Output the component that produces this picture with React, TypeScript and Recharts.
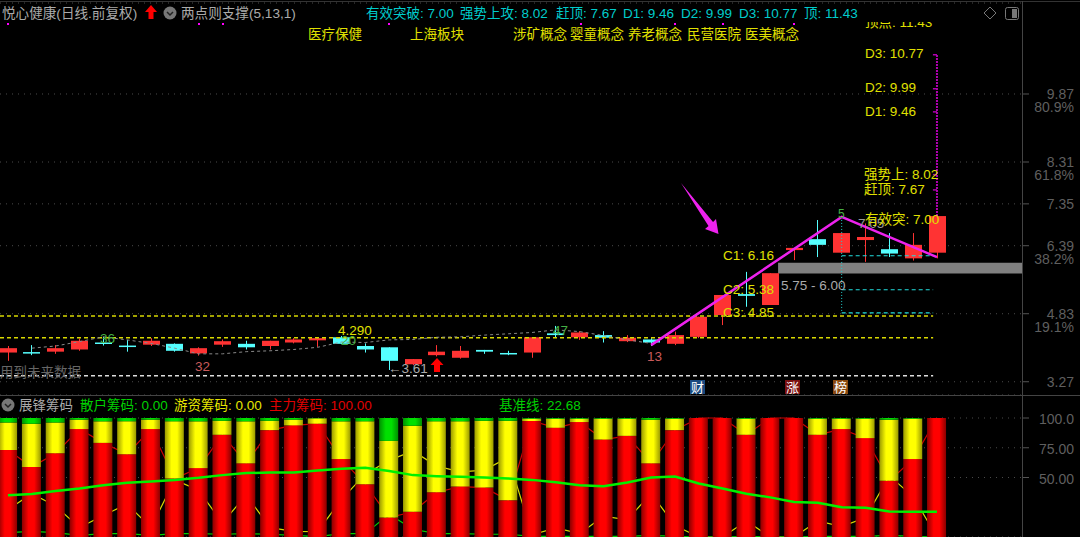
import React from 'react';
import { ComposedChart, Bar, Line, XAxis, YAxis, CartesianGrid, ReferenceLine, ReferenceArea } from 'recharts';

const candleOpen = [3.94,3.95,3.96,4.01,4.17,4.10,4.12,4.14,3.92,4.12,4.14,4.09,4.17,4.22,4.29,4.09,4.06,3.67,3.88,3.82,4.00,3.93,3.94,4.38,4.29,4.34,4.20,4.24,4.14,4.30,4.80,5.28,5.03,6.29,6.54,6.23,6.52,6.31,6.10,6.23];
const candleClose = [4.04,3.92,4.04,4.21,4.14,4.07,4.21,3.98,4.04,4.20,4.06,4.21,4.24,4.27,4.14,4.01,3.75,3.79,3.96,3.98,3.96,3.90,4.29,4.34,4.40,4.28,4.28,4.17,4.34,4.76,5.26,5.24,5.76,6.34,6.41,6.68,6.59,6.21,6.41,7.07];
const candleHigh = [4.09,4.11,4.11,4.26,4.30,4.23,4.27,4.15,4.06,4.24,4.21,4.21,4.27,4.29,4.32,4.15,4.06,3.79,4.11,4.09,4.00,3.98,4.29,4.55,4.43,4.43,4.34,4.27,4.42,4.76,5.26,5.79,5.76,6.34,6.98,6.68,6.90,6.68,6.68,7.07];
const candleLow = [3.75,3.88,3.91,3.98,4.10,3.96,4.09,3.96,3.87,4.07,4.01,4.01,4.15,4.07,4.13,3.94,3.54,3.65,3.85,3.80,3.91,3.88,3.82,4.29,4.23,4.17,4.18,4.09,4.11,4.27,4.57,4.99,5.03,6.06,6.13,6.23,6.02,6.13,6.05,6.10];
const trendValues = [null,4.04,4.09,4.19,4.30,4.23,4.15,4.04,3.91,3.91,3.96,3.98,4.01,4.06,4.18,4.17,4.23,4.24,4.29,4.30,4.34,4.37,4.40,4.46,4.42,4.33,4.23,4.15,null,null,null,null,null,null,null,null,null,null,null,null];
const swingValues = [null,null,null,null,null,null,null,null,null,null,null,null,null,null,null,null,null,null,null,null,null,null,null,null,null,null,null,4.11,null,null,null,null,null,null,null,7.05,null,null,null,6.13];

const mainChips = [73.2,58.8,70.3,90.7,79.1,69.5,90.7,49.2,57.9,85.9,61.9,89.8,93.8,95.2,65.5,44.4,16.4,21.2,37.6,42.4,41.5,30.8,97.5,91.8,96.6,81.9,85,61.9,89.8,100,100,85.9,100,100,85.9,90.7,83.1,47.2,65.5,100];
const hotChips = [23.1,36.4,26,7.9,18.1,27.7,7.9,48,39.3,11.8,35.3,7.9,4.8,4.5,31.7,52.8,64.4,72.3,59.6,54.8,56.2,66.9,1.9,7.6,2.8,17.5,14.4,36.7,9.6,0,0,13.5,0,0,13.5,8.7,16.3,51.4,33.9,0];
const retailChips = [3.7,4.8,3.7,1.4,2.8,2.8,1.4,2.8,2.8,2.3,2.8,2.3,1.4,0.3,2.8,2.8,19.2,6.5,2.8,2.8,2.3,2.3,0.6,0.6,0.6,0.6,0.6,1.4,0.6,0,0,0.6,0,0,0.6,0.6,0.6,1.4,0.6,0];
const baseValues = [35,36.2,38.7,40.7,43.5,45.5,46.6,48,49.7,52,53.7,54.2,54.2,55.9,57.3,58.2,55.4,52,51.1,50.6,50,49.2,48,46,43.5,42.7,45.8,50,50.8,44.9,40.7,36.4,33.3,29.4,28.8,25.1,24.6,21.5,21.2,21.2];

const priceTicks = [9.87, 8.31, 7.35, 6.39, 4.83, 3.27];
const priceTickLabels: Record<number, string[]> = {
  9.87: ['9.87', '80.9%'],
  8.31: ['8.31', '61.8%'],
  7.35: ['7.35'],
  6.39: ['6.39', '38.2%'],
  4.83: ['4.83', '19.1%'],
  3.27: ['3.27'],
};
const chipTicks = [100, 75, 50];
const chipTickLabels: Record<number, string> = { 100: '100.0', 75: '75.00', 50: '50.00' };
const targetLevels = [10.77, 9.99, 9.46, 8.02, 7.67];
const supportLevels = [6.16, 5.38, 4.85];
const conceptTags = ['医疗保健', '上海板块', '涉矿概念', '婴童概念', '养老概念', '民营医院', '医美概念'];
const summaryTexts = ['有效突破: 7.00', '强势上攻: 8.02', '赶顶: 7.67', 'D1: 9.46', 'D2: 9.99', 'D3: 10.77', '顶: 11.43'];

const candles = candleOpen.map((open, i) => ({
  i,
  open,
  close: candleClose[i],
  high: candleHigh[i],
  low: candleLow[i],
  trend: trendValues[i],
  swing: swingValues[i],
}));

const chips = mainChips.map((main, i) => ({
  i,
  main,
  hot: hotChips[i],
  retail: retailChips[i],
  base: baseValues[i],
}));

const FONT = '"Liberation Sans","Noto Sans CJK SC",sans-serif';
const UP = '#ff3333';
const DOWN = '#55ffff';
const XDOMAIN: [number, number] = [-0.336, 42.57];

const Candle = (props: any) => {
  const { x, y, width, height, payload } = props;
  const k = height / (payload.high - payload.low || 1);
  const color = payload.close >= payload.open ? UP : DOWN;
  const top = y + (payload.high - Math.max(payload.open, payload.close)) * k;
  const bodyH = Math.max(Math.abs(payload.close - payload.open) * k, 1.5);
  const cx = Math.round(x + width / 2);
  return (
    <g>
      <line x1={cx + 0.5} x2={cx + 0.5} y1={y} y2={y + height} stroke={color} strokeWidth={1} />
      <rect x={cx - 8} y={top} width={17} height={bodyH} fill={color} />
    </g>
  );
};

const PriceTick = (props: any) => {
  const { x, y, payload } = props;
  const lines = priceTickLabels[payload.value] || [];
  return (
    <g fontFamily={FONT} fontSize={14} fill="#5f5f5f">
      <line x1={x - 8} x2={x - 1} y1={y} y2={y} stroke="#555" />
      {lines.map((s, n) => (
        <text key={s} x={1074} y={y + 5 + n * 13} textAnchor="end">{s}</text>
      ))}
    </g>
  );
};

const ChipTick = (props: any) => {
  const { x, y, payload } = props;
  return (
    <g fontFamily={FONT} fontSize={14} fill="#5f5f5f">
      <line x1={x - 8} x2={x - 1} y1={y} y2={y} stroke="#555" />
      <text x={1074} y={y + 6} textAnchor="end">{chipTickLabels[payload.value]}</text>
    </g>
  );
};

const T = ({ x, y, c, s = 13.5, children }: any) => (
  <text x={x} y={y} fill={c} fontSize={s} fontFamily={FONT}>{children}</text>
);

const Chevron = ({ cx, cy }: { cx: number; cy: number }) => (
  <g>
    <circle cx={cx} cy={cy} r={6.5} fill="#777" />
    <path d={`M${cx - 3} ${cy - 1} L${cx} ${cy + 2} L${cx + 3} ${cy - 1}`} stroke="#222" strokeWidth={1.5} fill="none" />
  </g>
);

const Overlay = () => {
  const yellow = '#e0e000';
  const conceptX = [308, 410, 513, 570, 628, 687, 745];
  const summaryX = [366, 460, 556, 623, 681, 739, 804];
  return (
    <svg width={1080} height={537} style={{ position: 'absolute', left: 0, top: 0 }}>
      <defs>
        <clipPath id="topClip"><rect x={860} y={22} width={120} height={20} /></clipPath>
      </defs>
      <line x1={0} x2={1080} y1={1.5} y2={1.5} stroke="#333" />
      <line x1={0} x2={1080} y1={395.5} y2={395.5} stroke="#444" />
      <line x1={1022.5} x2={1022.5} y1={1} y2={537} stroke="#444" />

      <T x={2} y={18} c="#aaa" s={13.6}>悦心健康(日线.前复权)</T>
      <path d="M151 5 L157 12 L153.5 12 L153.5 19 L148.5 19 L148.5 12 L145 12 Z" fill="#ff0000" />
      <Chevron cx={170} cy={13} />
      <T x={181} y={18} c="#aaa" s={13.6}>两点则支撑(5,13,1)</T>
      {summaryTexts.map((s, n) => <T key={s} x={summaryX[n]} y={18} c="#00cccc">{s}</T>)}
      {[7, 198, 222, 388, 580, 674, 722, 793].map((x) => <rect key={x} x={x} y={23} width={2} height={2} fill="#ff00ff" />)}
      <path d="M990 7 L996 13 L990 19 L984 13 Z" fill="none" stroke="#777" />
      <rect x={1005.5} y={7.5} width={13} height={12} rx={2} fill="none" stroke="#777" />
      <rect x={1012} y={9} width={5} height={9} fill="#777" />

      {conceptTags.map((s, n) => <T key={s} x={conceptX[n]} y={39} c={yellow}>{s}</T>)}

      <g clipPath="url(#topClip)"><T x={865} y={27} c={yellow}>顶点: 11.43</T></g>
      <T x={865} y={58} c={yellow}>D3: 10.77</T>
      <T x={865} y={92} c={yellow}>D2: 9.99</T>
      <T x={865} y={116} c={yellow}>D1: 9.46</T>
      <T x={864} y={179} c={yellow}>强势上: 8.02</T>
      <T x={864} y={194} c={yellow}>赶顶: 7.67</T>
      <T x={858} y={228} c="#999">7.05</T>
      <T x={865} y={224} c={yellow}>有效突: 7.00</T>
      <T x={723} y={260} c={yellow}>C1: 6.16</T>
      <T x={723} y={294} c={yellow}>C2: 5.38</T>
      <T x={723} y={317} c={yellow}>C3: 4.85</T>
      <T x={781} y={290} c="#aaa">5.75 - 6.00</T>
      <T x={338} y={335} c={yellow}>4.290</T>
      <T x={100} y={343} c="#45b045">36</T>
      <T x={341} y={345} c="#45b045">20</T>
      <T x={553} y={335} c="#45b045">47</T>
      <T x={838} y={218} c="#45b045" s={12}>5</T>
      <T x={195} y={371} c="#c85a5a">32</T>
      <T x={647} y={361} c="#c85a5a">13</T>
      <T x={388} y={373} c="#aaa">←3.61</T>
      <T x={0} y={377} c="#666">用到未来数据</T>
      <path d="M437 358 L443.5 365 L440 365 L440 372 L434 372 L434 365 L430.5 365 Z" fill="#ff0000" />

      <path d="M681 183 L713 222 L716 219 L718.5 234 L705 229 L708.5 226 Z" fill="#ee22ee" />

      {[
        { x: 690, s: '财', bg: '#1a4a80' },
        { x: 785, s: '涨', bg: '#7a1010' },
        { x: 833, s: '榜', bg: '#8a4a10' },
      ].map((tag) => (
        <g key={tag.s}>
          <rect x={tag.x} y={380} width={15} height={14} fill={tag.bg} />
          <T x={tag.x + 1} y={392} c="#fff" s={13}>{tag.s}</T>
        </g>
      ))}

      <Chevron cx={8} cy={405} />
      <T x={19} y={410} c="#aaa">展锋筹码</T>
      <T x={80} y={410} c="#00d000">散户筹码: 0.00</T>
      <T x={174} y={410} c="#e6e600">游资筹码: 0.00</T>
      <T x={269} y={410} c="#e00000">主力筹码: 100.00</T>
      <T x={499} y={410} c="#00d000">基准线: 22.68</T>
    </svg>
  );
};

const chipMargin = { top: 23, right: 0, bottom: 0, left: 0 };

export default function App() {
  return (
    <div style={{ position: 'absolute', left: 0, top: 0, width: 1080, height: 537, background: '#000', overflow: 'hidden' }}>
      <div style={{ position: 'absolute', left: 0, top: 0 }}>
        <ComposedChart width={1080} height={395} data={candles} margin={{ top: 3, right: 0, bottom: 0, left: 0 }}>
          <XAxis dataKey="i" type="number" domain={XDOMAIN} allowDataOverflow hide />
          <YAxis
            orientation="right"
            width={58}
            domain={[2.966, 11.957]}
            allowDataOverflow
            ticks={priceTicks}
            interval={0}
            tick={<PriceTick />}
            axisLine={false}
            tickLine={false}
          />
          <CartesianGrid vertical={false} stroke="#4a4a4a" strokeDasharray="1 5" />
          <ReferenceLine segment={[{ x: -0.336, y: 4.78 }, { x: 38.84, y: 4.78 }]} stroke="#d8d800" strokeWidth={1.5} strokeDasharray="4 3" />
          <ReferenceLine segment={[{ x: -0.336, y: 4.28 }, { x: 38.84, y: 4.28 }]} stroke="#d8d800" strokeWidth={1.5} strokeDasharray="4 3" />
          <ReferenceLine segment={[{ x: -0.336, y: 3.41 }, { x: 38.84, y: 3.41 }]} stroke="#dddddd" strokeWidth={1.5} strokeDasharray="4 3" />
          {supportLevels.map((v) => (
            <ReferenceLine key={v} segment={[{ x: 35, y: v }, { x: 38.84, y: v }]} stroke="#22dddd" strokeWidth={1.2} strokeDasharray="4 3" />
          ))}
          <ReferenceLine segment={[{ x: 35, y: 7.05 }, { x: 35, y: 4.85 }]} stroke="#22cccc" strokeDasharray="1 2" />
          <ReferenceLine segment={[{ x: 39, y: 7.07 }, { x: 39, y: 10.79 }]} stroke="#b000b0" strokeWidth={2} strokeDasharray="2 1" />
          {targetLevels.map((v) => (
            <ReferenceLine key={v} segment={[{ x: 38.83, y: v }, { x: 39, y: v }]} stroke="#b000b0" strokeWidth={1.5} />
          ))}
          <ReferenceArea x1={32.33} x2={42.57} y1={5.75} y2={6.0} fill="#808080" fillOpacity={1} stroke="none" />
          <Line dataKey="trend" stroke="#8a8a8a" strokeDasharray="3 3" dot={false} connectNulls={false} isAnimationActive={false} />
          <Bar dataKey={(d: any) => [d.low, d.high]} barSize={17} shape={<Candle />} isAnimationActive={false} />
          <Line dataKey="swing" stroke="#ee22ee" strokeWidth={2.5} dot={false} connectNulls isAnimationActive={false} />
        </ComposedChart>
      </div>
      {/* thin chip lines sit under the bars, so they get their own layer */}
      <div style={{ position: 'absolute', left: 0, top: 395 }}>
        <ComposedChart width={1080} height={142} data={chips} margin={chipMargin}>
          <XAxis dataKey="i" type="number" domain={XDOMAIN} allowDataOverflow hide />
          <YAxis orientation="right" width={58} domain={[0, 100]} ticks={chipTicks} interval={0} tick={<ChipTick />} axisLine={false} tickLine={false} />
          <CartesianGrid vertical={false} stroke="#4a4a4a" strokeDasharray="1 5" />
          <Line dataKey="main" stroke="#d00000" strokeWidth={1.2} dot={false} isAnimationActive={false} />
          <Line dataKey="hot" stroke="#d8d800" strokeWidth={1.2} dot={false} isAnimationActive={false} />
          <Line dataKey="retail" stroke="#00d000" strokeWidth={1.2} dot={false} isAnimationActive={false} />
        </ComposedChart>
      </div>
      <div style={{ position: 'absolute', left: 0, top: 395 }}>
        <ComposedChart width={1080} height={142} data={chips} margin={chipMargin}>
          <defs>
            <linearGradient id="barRed" x1="0" x2="1" y1="0" y2="0">
              <stop offset="0" stopColor="#8a0000" />
              <stop offset="0.35" stopColor="#ff0000" />
              <stop offset="0.65" stopColor="#ff0000" />
              <stop offset="1" stopColor="#8a0000" />
            </linearGradient>
            <linearGradient id="barYellow" x1="0" x2="1" y1="0" y2="0">
              <stop offset="0" stopColor="#9a9a00" />
              <stop offset="0.35" stopColor="#ffff00" />
              <stop offset="0.65" stopColor="#ffff00" />
              <stop offset="1" stopColor="#9a9a00" />
            </linearGradient>
            <linearGradient id="barGreen" x1="0" x2="1" y1="0" y2="0">
              <stop offset="0" stopColor="#009000" />
              <stop offset="0.35" stopColor="#00e000" />
              <stop offset="0.65" stopColor="#00e000" />
              <stop offset="1" stopColor="#009000" />
            </linearGradient>
          </defs>
          <XAxis dataKey="i" type="number" domain={XDOMAIN} allowDataOverflow hide />
          <YAxis orientation="right" width={58} domain={[0, 100]} ticks={chipTicks} tick={false} axisLine={false} tickLine={false} />
          <Bar dataKey="main" stackId="chips" barSize={19} fill="url(#barRed)" isAnimationActive={false} />
          <Bar dataKey="hot" stackId="chips" barSize={19} fill="url(#barYellow)" isAnimationActive={false} />
          <Bar dataKey="retail" stackId="chips" barSize={19} fill="url(#barGreen)" isAnimationActive={false} />
          <Line dataKey="base" stroke="#00f000" strokeWidth={2.5} dot={false} isAnimationActive={false} />
        </ComposedChart>
      </div>
      <Overlay />
    </div>
  );
}
